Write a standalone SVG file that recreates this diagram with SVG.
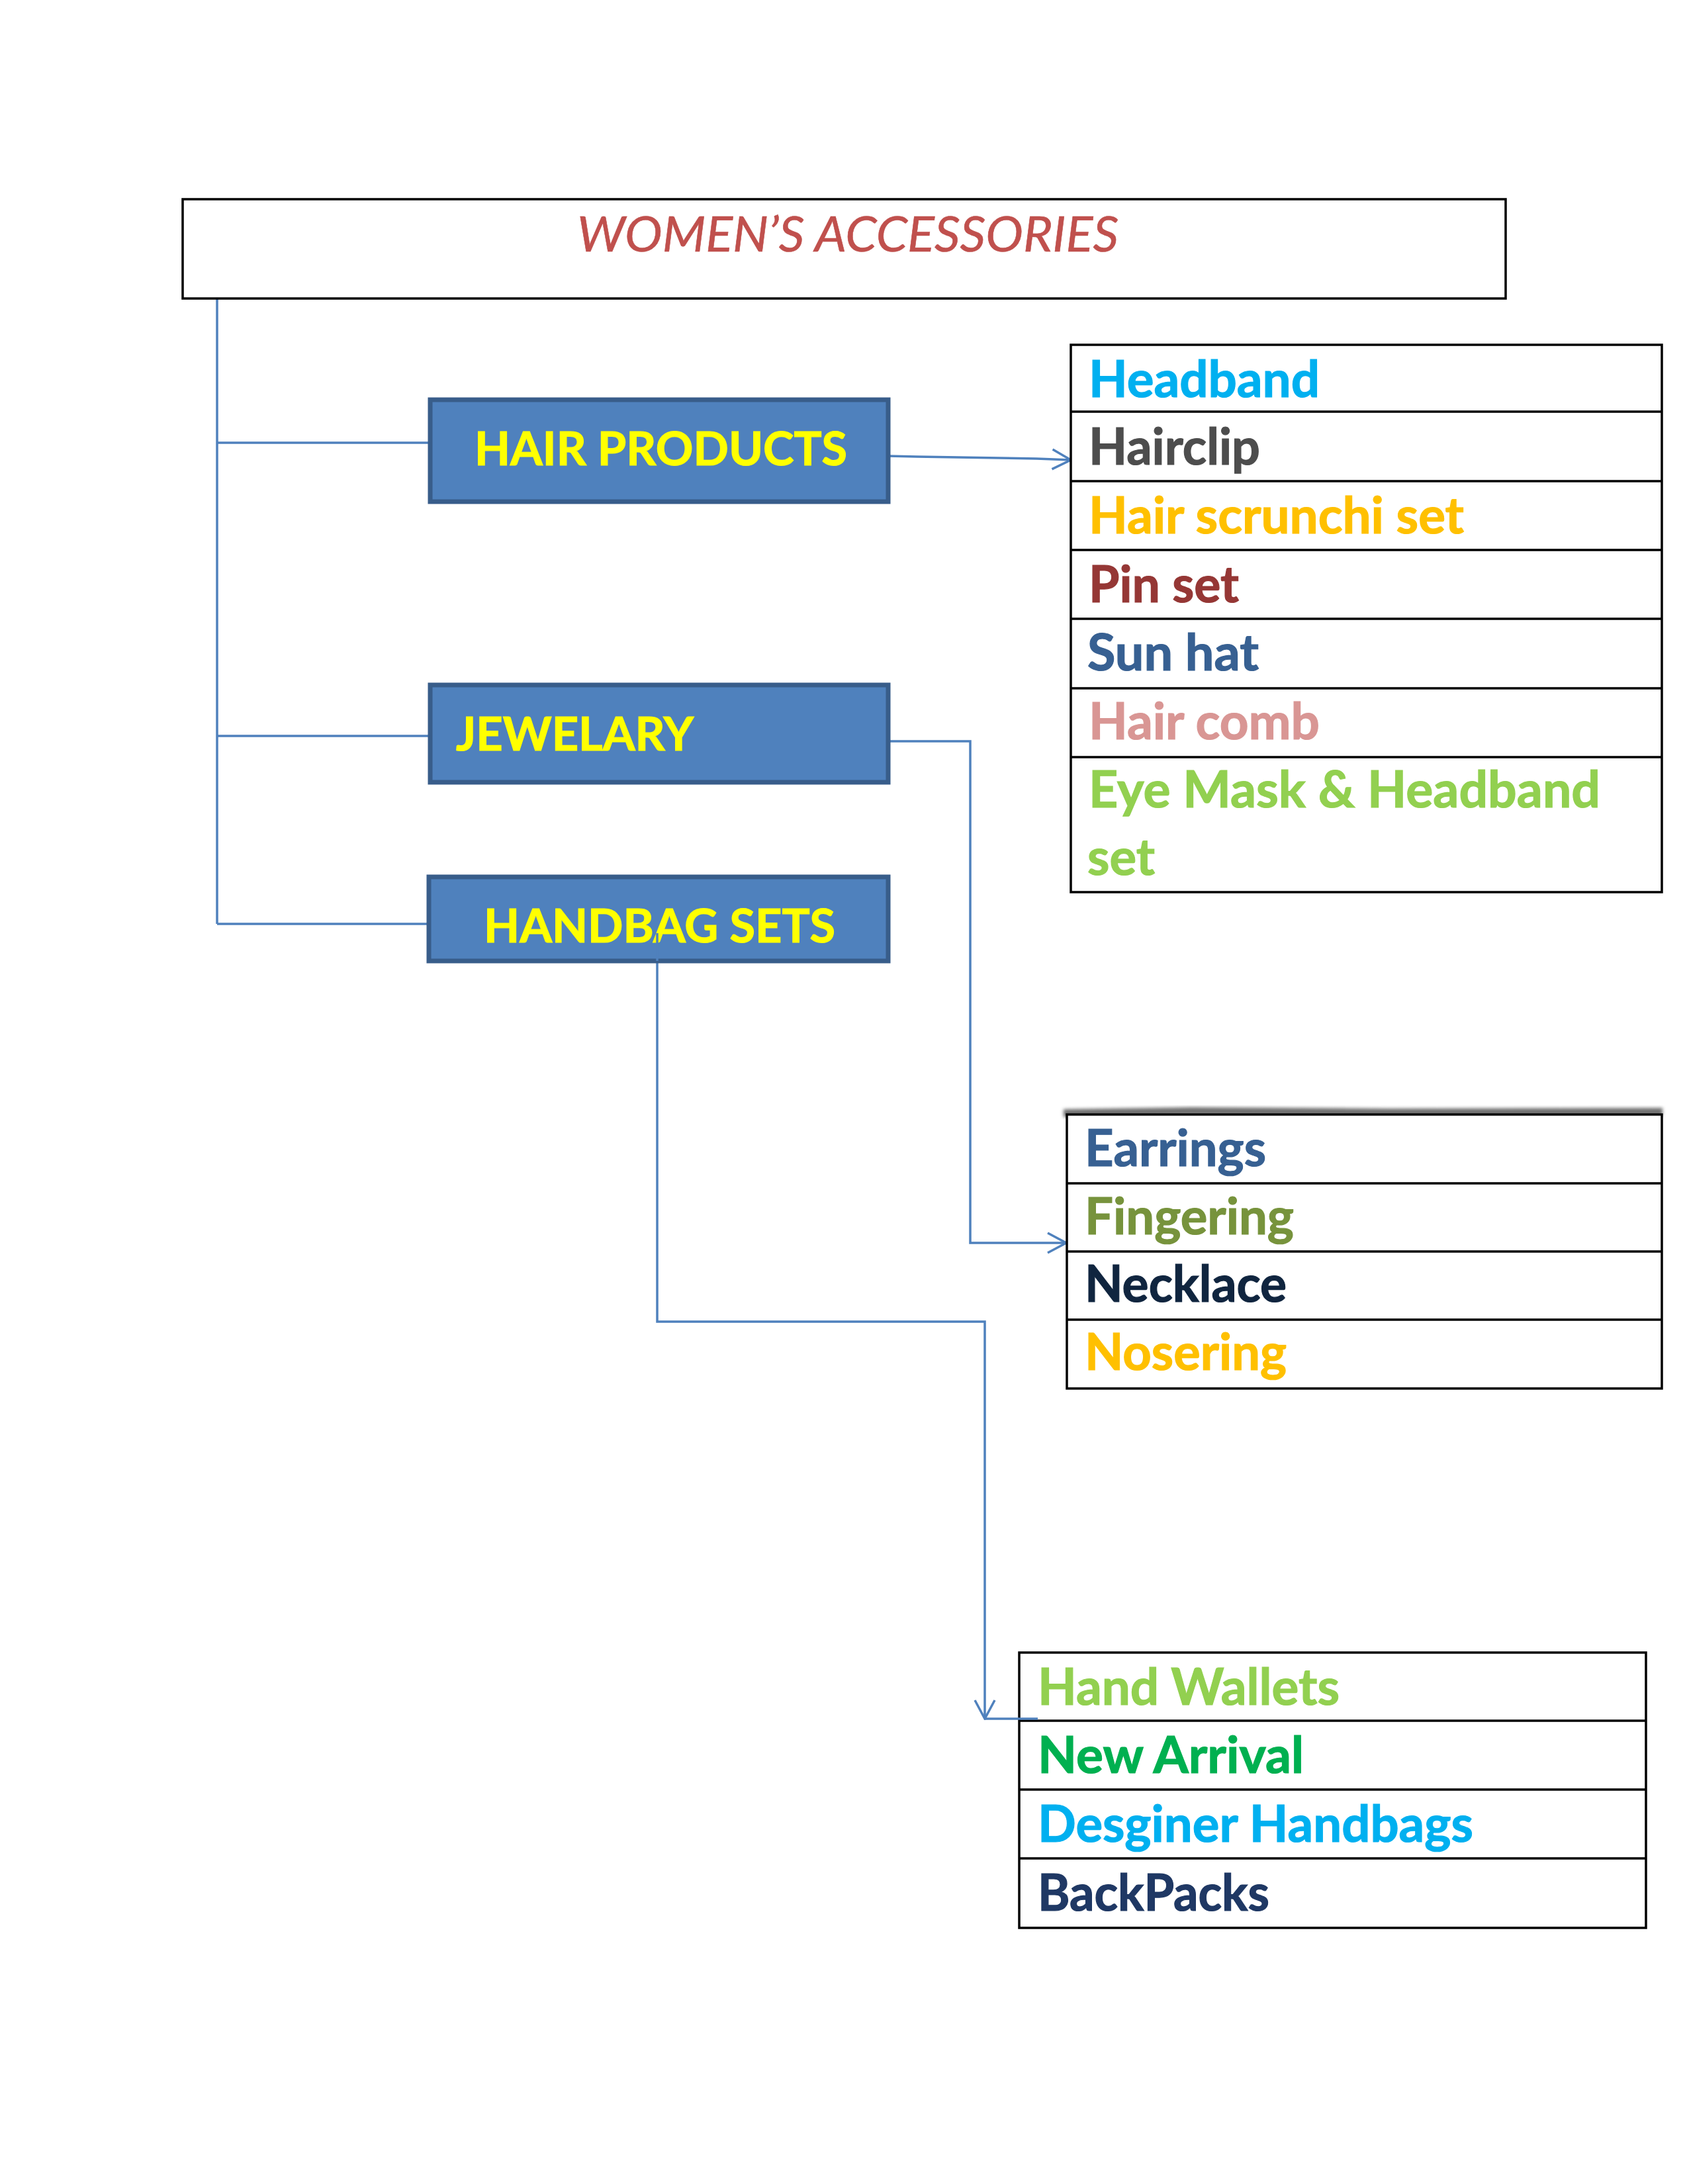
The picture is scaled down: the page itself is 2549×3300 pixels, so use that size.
<svg xmlns="http://www.w3.org/2000/svg" width="2549" height="3300" viewBox="0 0 2549 3300">
<style>
.conn{fill:none;stroke:#4F81BD;stroke-width:3.5}
.cat rect{fill:#4F81BD;stroke:#385D8A;stroke-width:7}
.cat text{font-family:Lato,"Open Sans","Liberation Sans",sans-serif;font-weight:bold;font-size:71px;fill:#FFFF00;stroke:#FFFF00;stroke-width:1.2}
.list rect{fill:#FFFFFF;stroke:#000000;stroke-width:3.5}
.list line{stroke:#000000;stroke-width:3.5}
.item{font-family:Lato,"Open Sans","Liberation Sans",sans-serif;font-weight:bold;font-size:76px;fill:currentColor;stroke:currentColor;stroke-width:1.2}
</style>
<defs>
<marker id="arr" viewBox="0 0 32 34" refX="30" refY="17" markerWidth="32" markerHeight="34" markerUnits="userSpaceOnUse" orient="auto">
<path d="M2,2 L30,17 L2,32" fill="none" stroke="#4F81BD" stroke-width="3.5"/>
</marker>
<filter id="blur" x="-5%" y="-300%" width="110%" height="700%"><feGaussianBlur stdDeviation="2.5"/></filter>
</defs>
<rect width="2549" height="3300" fill="#FFFFFF"/>

<g id="connectors">
<path class="conn" d="M328,451 V1396"/>
<path class="conn" d="M328,669 H650"/>
<path class="conn" d="M328,1112 H650"/>
<path class="conn" d="M328,1396 H648"/>
<path class="conn" d="M1342,689 L1385,690 L1566,693 L1618,695" marker-end="url(#arr)"/>
<path class="conn" d="M1342,1120 H1466 V1878 H1611" marker-end="url(#arr)"/>
<path class="conn" d="M1605,1878 H1621"/>
<path class="conn" d="M993,1410 V1997 H1488 V2597" marker-end="url(#arr)"/>
</g>

<g id="title">
<rect x="276" y="301" width="1999" height="150" fill="#FFFFFF" stroke="#000000" stroke-width="3.5"/>
<text x="872" y="380" textLength="818" lengthAdjust="spacingAndGlyphs" font-family="Lato,'Open Sans','Liberation Sans',sans-serif" font-style="italic" font-size="74" fill="#C0504D" stroke="#C0504D" stroke-width="0.6">WOMEN’S ACCESSORIES</text>
</g>

<g id="hair-products" class="cat">
<rect x="650" y="604" width="692" height="154"/>
<text x="717" y="703" textLength="563" lengthAdjust="spacingAndGlyphs">HAIR PRODUCTS</text>
</g>

<g id="jewelary" class="cat">
<rect x="650" y="1035" width="692" height="147"/>
<text x="689" y="1134" textLength="359" lengthAdjust="spacingAndGlyphs">JEWELARY</text>
</g>

<g id="handbag-sets" class="cat">
<rect x="648" y="1325" width="694" height="127"/>
<text x="731" y="1424" textLength="531" lengthAdjust="spacingAndGlyphs">HANDBAG SETS</text>
</g>
<path class="conn" d="M993,1410 V1452"/>

<g id="hair-list" class="list">
<rect x="1618" y="521" width="893" height="827"/>
<line x1="1618" y1="622" x2="2511" y2="622"/>
<line x1="1618" y1="727" x2="2511" y2="727"/>
<line x1="1618" y1="831" x2="2511" y2="831"/>
<line x1="1618" y1="935" x2="2511" y2="935"/>
<line x1="1618" y1="1040" x2="2511" y2="1040"/>
<line x1="1618" y1="1144" x2="2511" y2="1144"/>
<text class="item" x="1645" y="600" textLength="349" lengthAdjust="spacingAndGlyphs" color="#00B0F0">Headband</text>
<text class="item" x="1645" y="702" textLength="259" lengthAdjust="spacingAndGlyphs" color="#4D4D4D">Hairclip</text>
<text class="item" x="1645" y="806" textLength="567" lengthAdjust="spacingAndGlyphs" color="#FFC000">Hair scrunchi set</text>
<text class="item" x="1645" y="910" textLength="227" lengthAdjust="spacingAndGlyphs" color="#953735">Pin set</text>
<text class="item" x="1643" y="1013" textLength="259" lengthAdjust="spacingAndGlyphs" color="#376092">Sun hat</text>
<text class="item" x="1645" y="1117" textLength="349" lengthAdjust="spacingAndGlyphs" color="#D99694">Hair comb</text>
<text class="item" x="1645" y="1220" textLength="773" lengthAdjust="spacingAndGlyphs" color="#92D050">Eye Mask &amp; Headband</text>
<text class="item" x="1643" y="1322" textLength="102" lengthAdjust="spacingAndGlyphs" color="#92D050">set</text>
</g>

<g id="jewelary-list" class="list">
<path d="M1607,1682 L1800,1679 L2100,1681 L2512,1680" fill="none" stroke="#707070" stroke-width="12" filter="url(#blur)"/>
<rect x="1612" y="1684" width="899" height="414"/>
<line x1="1612" y1="1788" x2="2511" y2="1788"/>
<line x1="1612" y1="1891" x2="2511" y2="1891"/>
<line x1="1612" y1="1994" x2="2511" y2="1994"/>
<text class="item" x="1639" y="1762" textLength="274" lengthAdjust="spacingAndGlyphs" color="#376092">Earrings</text>
<text class="item" x="1639" y="1865" textLength="316" lengthAdjust="spacingAndGlyphs" color="#77933C">Fingering</text>
<text class="item" x="1639" y="1967" textLength="305" lengthAdjust="spacingAndGlyphs" color="#10253F">Necklace</text>
<text class="item" x="1639" y="2070" textLength="305" lengthAdjust="spacingAndGlyphs" color="#FFC000">Nosering</text>
</g>

<g id="handbag-list" class="list">
<rect x="1540" y="2497" width="947" height="416"/>
<line x1="1540" y1="2600" x2="2487" y2="2600"/>
<line x1="1540" y1="2704" x2="2487" y2="2704"/>
<line x1="1540" y1="2808" x2="2487" y2="2808"/>
<text class="item" x="1568" y="2576" textLength="456" lengthAdjust="spacingAndGlyphs" color="#92D050">Hand Wallets</text>
<text class="item" x="1568" y="2679" textLength="402" lengthAdjust="spacingAndGlyphs" color="#00B050">New Arrival</text>
<text class="item" x="1568" y="2783" textLength="658" lengthAdjust="spacingAndGlyphs" color="#00B0F0">Desginer Handbags</text>
<text class="item" x="1568" y="2887" textLength="350" lengthAdjust="spacingAndGlyphs" color="#1F3864">BackPacks</text>
</g>
<path class="conn" d="M1488,2597 H1568"/>
</svg>
